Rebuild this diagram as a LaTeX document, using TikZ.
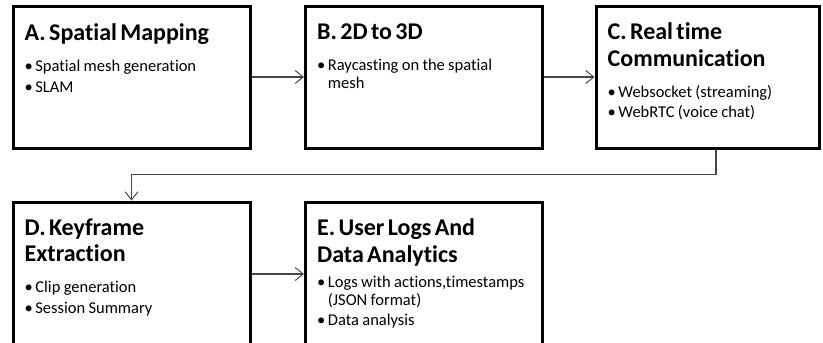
\documentclass[tikz,border=0pt]{standalone}
\usepackage{fontspec}
\setmainfont{Carlito}[Ligatures=NoCommon]
\usetikzlibrary{arrows.meta}
\newcommand{\ttlA}[2][13pt]{{\fontsize{24}{26.5}\selectfont\bfseries\rule{0pt}{16pt}#2\par}\vspace{#1}}
\newcommand{\bulA}[2][3pt]{{\fontsize{16.5}{18}\selectfont\setbox0\hbox{•\hspace{2.5pt}}\hangindent\wd0\hangafter=1 \leavevmode\box0 #2\par}\vspace{#1}}
\tikzset{
  box/.style={draw=black, line width=3pt, minimum width=237pt, minimum height=142pt, inner sep=0pt, outer sep=1.5pt},
  txt/.style={anchor=north west, inner sep=0pt, text width=225pt, align=left},
  conn/.style={draw=black!72, line width=1.1pt, -{Straight Barb[length=8pt,width=13pt,line width=1pt]}}
}
\begin{document}
\begin{tikzpicture}[x=1pt,y=-1pt]
\useasboundingbox[fill=white] (0,0) rectangle (823,343);
\clip (0,0) rectangle (823,343);
\node[box] (A) at (131.5,77) {};
\node[box] (B) at (424,77) {};
\node[box, minimum width=223pt] (C) at (707.5,77) {};
\node[box, minimum height=144pt] (D) at (131.5,274) {};
\node[box, minimum height=144pt] (E) at (424,274) {};
\node[txt] (At) at ([shift={(13,19)}]A.north west) {\ttlA{A. Spatial Mapping}\bulA{Spatial mesh generation}\bulA{SLAM}};
\node[txt] (Bt) at ([shift={(13,19)}]B.north west) {\ttlA{B. 2D to 3D}\bulA{Raycasting on the spatial\newline mesh}};
\node[txt, text width=205pt] (Ct) at ([shift={(13,18)}]C.north west) {\ttlA{C. Real time\newline Communication}\bulA[2pt]{Websocket (streaming)}\bulA{WebRTC (voice chat)}};
\node[txt] (Dt) at ([shift={(13,18)}]D.north west) {\ttlA[13pt]{D. Keyframe\newline Extraction}\bulA{Clip generation}\bulA{Session Summary}};
\node[txt] (Et) at ([shift={(13,18)}]E.north west) {\ttlA[7pt]{E. User Logs And\newline Data Analytics}\bulA[2pt]{Logs with actions,timestamps\newline (JSON format)}\bulA{Data analysis}};
\draw[conn] (A) -- (B);
\draw[conn] (B) -- (C);
\draw[conn] ([xshift=8.5pt]C.south) -- ++(0,25) -| (D.north);
\draw[conn] (D) -- (E);
\end{tikzpicture}
\end{document}
